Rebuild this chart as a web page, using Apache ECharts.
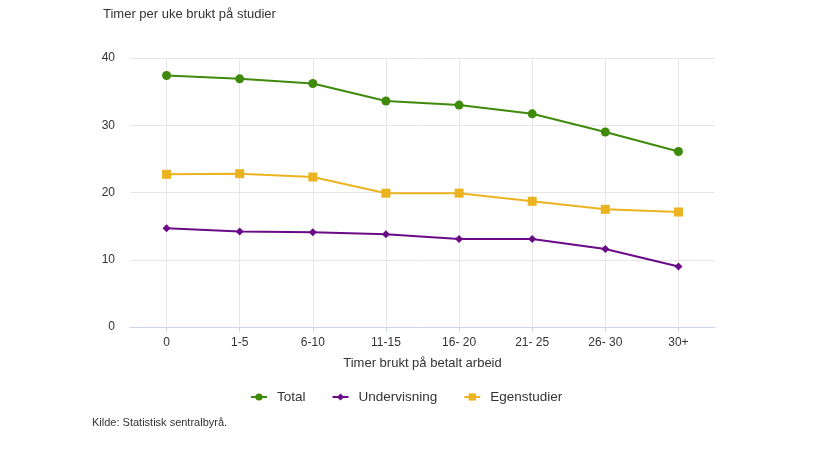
<!DOCTYPE html>
<html><head><meta charset="utf-8">
<script src="https://cdn.jsdelivr.net/npm/echarts@6/dist/echarts.min.js"></script>
<style>html,body{margin:0;padding:0;background:#fff}#c{width:837px;height:470px}</style>
</head><body><div id="c"></div>
<script>
var categories = ['0','1-5','6-10','11-15','16- 20','21- 25','26- 30','30+'];
var total = [37.4, 36.9, 36.2, 33.6, 33.0, 31.7, 29.0, 26.1];
var undervisning = [14.7, 14.2, 14.1, 13.8, 13.1, 13.1, 11.6, 9.0];
var egenstudier = [22.7, 22.8, 22.3, 19.9, 19.9, 18.7, 17.5, 17.1];
var yTicks = [0, 10, 20, 30, 40];

function pairs(arr){ return arr.map(function(v,i){ return [i, v]; }); }
var idx = categories.map(function(c,i){ return i; });
var font = 'Liberation Sans, Arial, sans-serif';

var chart = echarts.init(document.getElementById('c'), null, {renderer:'canvas'});
chart.setOption({
  animation:false,
  textStyle:{fontFamily:font},
  title:{text:'Timer per uke brukt på studier', left:98, top:3,
    textStyle:{fontSize:13, fontWeight:'normal', color:'#333', fontFamily:font}},
  grid:{left:130, right:122, top:58, bottom:143},
  legend:{bottom:61, left:245, itemGap:26, itemWidth:16, itemHeight:9,
    textStyle:{fontSize:13.5, color:'#333', fontFamily:font, padding:[0,0,0,5]},
    data:['Total','Undervisning','Egenstudier']},
  graphic:[{type:'text', left:92, top:417, style:{text:'Kilde: Statistisk sentralbyrå.', fontSize:11, fill:'#333', fontFamily:font}}],
  xAxis:{type:'value', min:-0.5, max:7.5,
    name:'Timer brukt på betalt arbeid', nameLocation:'middle', nameGap:30,
    nameTextStyle:{fontSize:13, color:'#333', fontFamily:font},
    axisLine:{show:true, onZero:false, lineStyle:{color:'#ccd6eb'}},
    axisTick:{show:true, customValues:idx, length:5, lineStyle:{color:'#ccd6eb'}},
    axisLabel:{customValues:idx, color:'#333', fontSize:12, margin:10,
      formatter:function(v){ return categories[Math.round(v)]; }},
    splitLine:{show:true, lineStyle:{color:'#e6e6e6'}}},
  yAxis:{type:'value', min:0, max:40, interval:10,
    axisLine:{show:false}, axisTick:{show:false},
    axisLabel:{color:'#333', fontSize:12, margin:15},
    splitLine:{lineStyle:{color:'#e6e6e6'}}},
  series:[
    {name:'Total', type:'line', data:pairs(total), symbol:'circle', symbolSize:9,
      itemStyle:{color:'#3f8a0b'}, lineStyle:{width:2, color:'#3f8a0b'}},
    {name:'Undervisning', type:'line', data:pairs(undervisning), symbol:'diamond', symbolSize:8,
      itemStyle:{color:'#6a0a87'}, lineStyle:{width:2, color:'#6a0a87'}},
    {name:'Egenstudier', type:'line', data:pairs(egenstudier), symbol:'rect', symbolSize:9,
      itemStyle:{color:'#ebb320'}, lineStyle:{width:2, color:'#ebb320'}}
  ]
});
</script></body></html>
